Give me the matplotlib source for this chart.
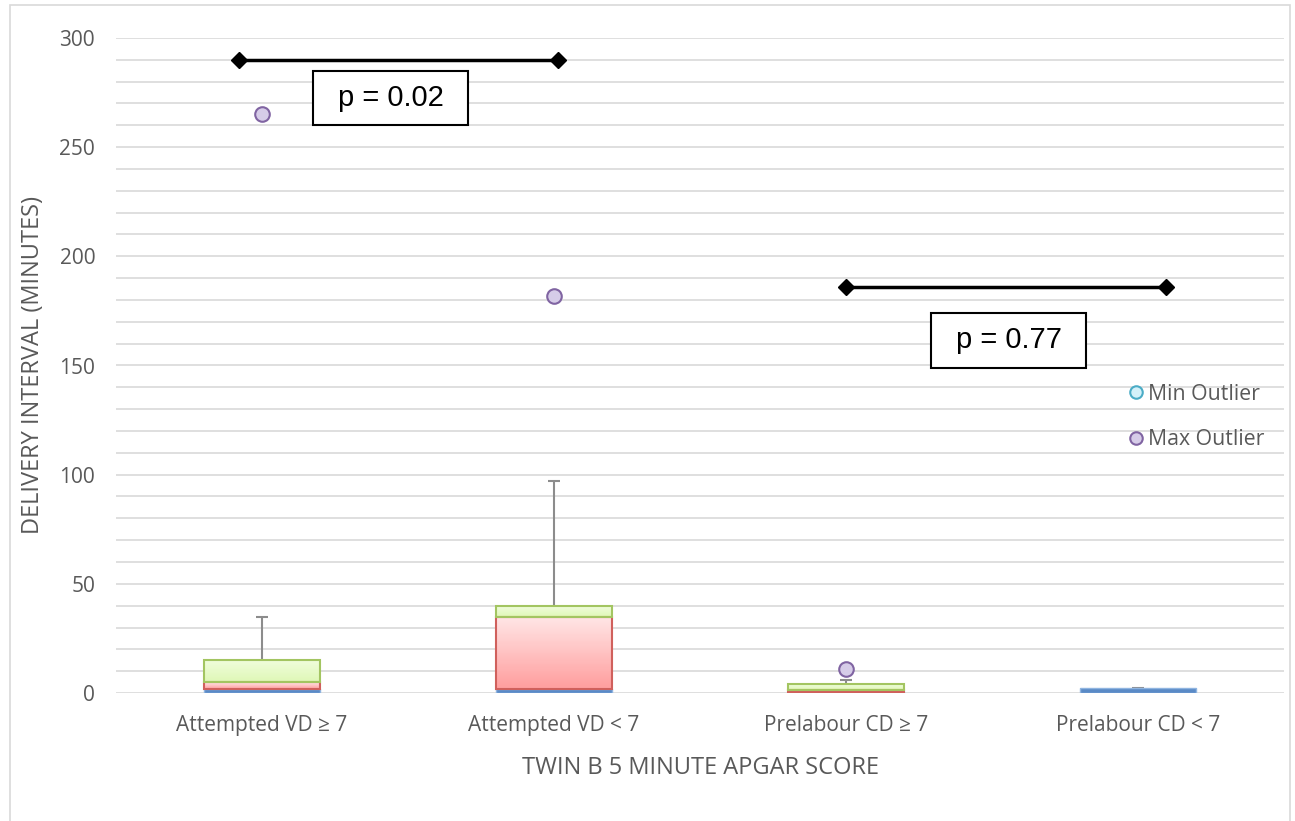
import numpy as np
import matplotlib.pyplot as plt
from matplotlib.patches import Rectangle
from matplotlib.lines import Line2D

# data
groups = ["Attempted VD ≥ 7", "Attempted VD < 7", "Prelabour CD ≥ 7", "Prelabour CD < 7"]
q1 = [2, 2, 0.5, 2.3]
median = [5, 35, 1.5, 2.3]
q3 = [15, 40, 4, 2.3]
whisker_max = [35, 97, 6, 2.3]
max_outlier_x = [0, 1, 2]
max_outlier_y = [265, 182, 11]
min_outlier_x = []
min_outlier_y = []

# comparison brackets: (x0, x1, y, text, box centre x, box centre y)
brackets = [(-0.08, 1.015, 290, "p = 0.02", 0.44, 272.6),
            (2.0, 3.095, 186, "p = 0.77", 2.558, 161.5)]

plt.rcParams['font.family'] = ['Open Sans', 'DejaVu Sans']
grey = "#595959"

fig = plt.figure(figsize=(12.95, 8.21), dpi=100)
ax = fig.add_axes([116/1295, 1-693/821, 1168/1295, 655/821])

x = np.arange(len(groups))
w = 0.40
q1 = np.array(q1); median = np.array(median); q3 = np.array(q3)


def gradient_fill(bars, top, bottom):
    # vertical gradient inside each bar
    cmap = plt.matplotlib.colors.LinearSegmentedColormap.from_list("g", [bottom, top])
    grad = np.linspace(0, 1, 64).reshape(-1, 1)
    for b in bars:
        if b.get_height() <= 0:
            continue
        bx, by = b.get_x(), b.get_y()
        im = ax.imshow(grad, extent=[bx, bx + b.get_width(), by, by + b.get_height()],
                       origin="lower", cmap=cmap, aspect="auto", zorder=2.9)
        im.set_clip_path(b)
        b.set_facecolor("none")


def lw_for(h, lw):
    return [lw if v > 0 else 0 for v in h]


ax.bar(x, q1, w, color="#5a8ac6", edgecolor="#8fb4e0", linewidth=1, zorder=3)
red = ax.bar(x, median - q1, w, bottom=q1, color="#ffc2c2", edgecolor="#d0605c",
             linewidth=lw_for(median - q1, 1.5), zorder=3)
green = ax.bar(x, q3 - median, w, bottom=median, color="#e8fbc8", edgecolor="#a3c561",
               linewidth=lw_for(q3 - median, 1.5), zorder=3)
gradient_fill(red, "#ffe6e6", "#ff9e9e")
gradient_fill(green, "#f0fddc", "#dff8b6")

# whiskers
ax.vlines(x, q3, whisker_max, color="#8c8c8c", linewidth=1.5, zorder=2)
ax.hlines(whisker_max, x - 0.02, x + 0.02, color="#8c8c8c", linewidth=1.5, zorder=2)

ax.scatter(min_outlier_x, min_outlier_y, s=110, facecolor="#d4f1f9", edgecolor="#4bacc6",
           linewidth=1.5, zorder=4)
ax.scatter(max_outlier_x, max_outlier_y, s=110, facecolor="#d6cce8", edgecolor="#8064a2",
           linewidth=1.5, zorder=4)

box_w, box_h = 0.531, 25
for x0, x1, yb, txt, tx, ty in brackets:
    ax.plot([x0, x1], [yb, yb], color="black", linewidth=2.5, marker="D", markersize=8,
            zorder=5, clip_on=False)
    ax.add_patch(Rectangle((tx - box_w/2, ty - box_h/2), box_w, box_h, facecolor="white",
                           edgecolor="black", linewidth=1.5, zorder=6))
    ax.text(tx, ty, txt, fontsize=21, family="Liberation Sans", ha="center", va="center",
            zorder=7)

ax.set_xlim(-0.5, 3.5)
ax.set_ylim(0, 300)
ax.set_yticks(np.arange(0, 301, 50))
ax.set_yticks(np.arange(0, 301, 10), minor=True)
ax.set_xticks(x)
ax.set_xticklabels(groups)
ax.grid(True, axis="y", which="both", color="#d9d9d9", linewidth=1.2, zorder=0)
ax.set_axisbelow(True)
for s in ax.spines.values():
    s.set_visible(False)
ax.tick_params(axis="both", which="both", length=0, colors=grey, labelsize=15)
ax.tick_params(axis="x", pad=16)
ax.tick_params(axis="y", pad=15)

ax.set_xlabel("TWIN B 5 MINUTE APGAR SCORE", fontsize=17, color=grey, labelpad=14)
ax.set_ylabel("DELIVERY INTERVAL (MINUTES)", fontsize=17, color=grey, labelpad=10)

handles = [Line2D([], [], linestyle="none", marker="o", markersize=9, markerfacecolor="#d4f1f9",
                  markeredgecolor="#4bacc6", markeredgewidth=1.5),
           Line2D([], [], linestyle="none", marker="o", markersize=9, markerfacecolor="#d6cce8",
                  markeredgecolor="#8064a2", markeredgewidth=1.5)]
ax.legend(handles, ["Min Outlier", "Max Outlier"], loc="center left",
          bbox_to_anchor=(0.8664, 0.4215), frameon=False, fontsize=15.3, labelcolor=grey,
          handlelength=0.75, handletextpad=0.2, labelspacing=1.15, borderaxespad=0, borderpad=0)

fig.patches.append(Rectangle((10/1295, -0.01), 1280/1295, 1.01 - 5/821, transform=fig.transFigure,
                             fill=False, edgecolor="#d9d9d9", linewidth=1.2))

fig.savefig("out.png", dpi=100)
